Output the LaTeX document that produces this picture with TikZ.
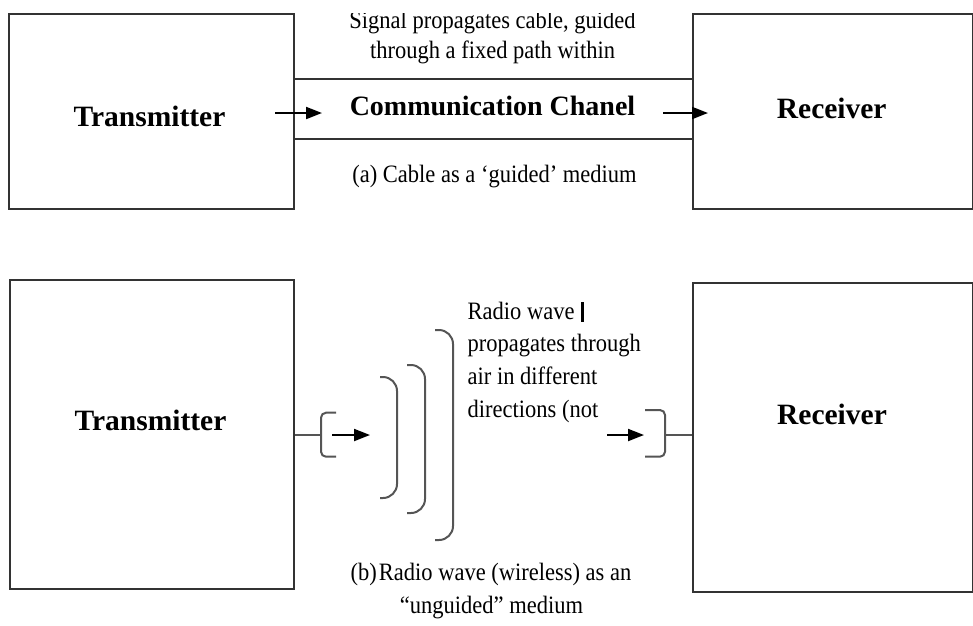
\documentclass[tikz,border=0pt]{standalone}
\usepackage{fontspec}
\setmainfont{Liberation Serif}
\newfontfamily\narrowserif{Liberation Serif}[FakeStretch=0.9]
\usetikzlibrary{arrows.meta}
\definecolor{edgegray}{HTML}{333333}
\definecolor{wavegray}{HTML}{555555}
\begin{document}
\begin{tikzpicture}[x=1pt,y=-1pt,
  block/.style={draw=edgegray,line width=2pt,inner sep=0pt,anchor=north west},
  title/.style={font=\fontsize{29.5}{34}\selectfont\bfseries,anchor=base,inner sep=0pt},
  note/.style={font=\narrowserif\fontsize{25}{32}\selectfont,anchor=base,inner sep=0pt},
  flow/.style={-{Triangle[length=16pt,width=12pt]},line width=2pt,black},
  cable/.style={draw=edgegray,line width=2pt},
  wire/.style={draw=wavegray,line width=1.6pt},
  wavefront/.style={draw=wavegray,line width=2pt,rounded corners=14pt},
  jack/.style={draw=wavegray,line width=2pt,rounded corners=5pt}]
\useasboundingbox (0,0) rectangle (973,625);
\clip (0,0) rectangle (973,625);

% ---------- (a) guided medium ----------
\node[block,minimum width=285pt,minimum height=195pt] (tx1) at (8,13) {};
\node[block,minimum width=280pt,minimum height=195pt] (rx1) at (692,13) {};
\node[title] (tx1label) at (149.5,126.7) {Transmitter};
\node[title] (rx1label) at (831.7,118) {Receiver};

% cable walls
\draw[cable] ([yshift=32.5pt]tx1.east) -- ([yshift=32.5pt]rx1.west);
\draw[cable] ([yshift=-27.5pt]tx1.east) -- ([yshift=-27.5pt]rx1.west);

% the text frame above the cable cuts off the top of its first line
\begin{scope}
  \clip (0,13) rectangle (973,625);
  \node[note] (sig1) at (492.5,28) {Signal propagates cable, guided};
  \node[note] (sig2) at (492.5,58) {through a fixed path within};
\end{scope}
\node[font=\fontsize{28}{32}\selectfont\bfseries,anchor=base,inner sep=0pt] (chan) at (492.5,115) {Communication Chanel};
\node[note] (capa) at (494.5,182) {(a) Cable as a ‘guided’ medium};

\coordinate (inA) at (275,113);
\coordinate (inB) at (322,113);
\coordinate (outA) at (663,113);
\coordinate (outB) at (708,113);
\draw[flow] (inA) -- (inB);
\draw[flow] (outA) -- (outB);

% ---------- (b) unguided medium ----------
\node[block,minimum width=284pt,minimum height=309pt] (tx2) at (9,279) {};
\node[block,minimum width=280pt,minimum height=309pt] (rx2) at (692,282) {};
\node[title] (tx2label) at (150.5,430) {Transmitter};
\node[title] (rx2label) at (832,424) {Receiver};

% transmitting antenna
\coordinate (lj) at (321,435);
\draw[wire] (tx2.east |- lj) -- (lj);
\draw[jack] (336,412.7) -- (321,412.7) -- (321,456.7) -- (336,456.7);
\coordinate (txA) at (332,435);
\coordinate (txB) at (370,435);
\draw[flow] (txA) -- (txB);

% spreading wave fronts
\draw[wavefront] (380,377) -- (397,377) -- (397,498) -- (380,498);
\draw[wavefront] (407,365) -- (425,365) -- (425,513) -- (407,513);
\draw[wavefront] (435,330) -- (453,330) -- (453,540) -- (435,540);

% receiving antenna
\coordinate (rj) at (665,435);
\draw[jack] (645,410) -- (665,410) -- (665,456.7) -- (645,456.7);
\draw[wire] (rj) -- (rx2.west |- rj);
\coordinate (rxA) at (607,435);
\coordinate (rxB) at (644,435);
\draw[flow] (rxA) -- (rxB);

\node[note,anchor=base west] (rw1) at (467.5,319) {Radio wave};
\node[fill=black,minimum width=3pt,minimum height=20pt,inner sep=0pt] (caret) at (582.5,312) {};
\node[note,anchor=base west] (rw2) at (467.5,351.7) {propagates through};
\node[note,anchor=base west] (rw3) at (467.5,384.4) {air in different};
\node[note,anchor=base west] (rw4) at (467.5,417) {directions (not};

\node[note] (capb1) at (491,580.7) {(b)\hspace{2pt}Radio wave (wireless) as an};
\node[note] (capb2) at (491.5,613) {“unguided” medium};
\end{tikzpicture}
\end{document}
